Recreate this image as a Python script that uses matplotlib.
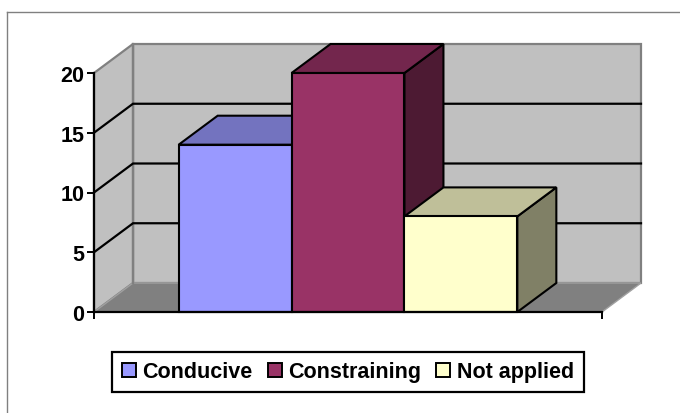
import matplotlib
matplotlib.use("Agg")
import matplotlib.pyplot as plt
from matplotlib.patches import Polygon, Patch
from matplotlib.lines import Line2D
from matplotlib.colors import to_rgb

plt.rcParams["font.family"] = ["Liberation Sans", "DejaVu Sans"]

# --- data ---
categories = ["Conducive", "Constraining", "Not applied"]
values = [14, 20, 8]
front_colors = ["#9999FF", "#993366", "#FFFFCC"]
y_ticks = [0, 5, 10, 15, 20]

# --- layout (pixels) ---
W, H = 680, 414
left_px, right_px, base_px, top_px = 94, 602, 313, 74
depth_px = (39, 29)          # oblique depth offset of the 3-D box
gap = 0.75                   # half of the category gap, in bar widths
font_size = 15.5

fig = plt.figure(figsize=(W / 100, H / 100), dpi=100)
fig.patch.set_facecolor("white")
ax = fig.add_axes([left_px / W, 1 - base_px / H,
                   (right_px - left_px) / W, (base_px - top_px) / H])
ax.patch.set_visible(False)

n = len(values)
xmax = n + 2 * gap
ymax = y_ticks[-1]
ax.set_xlim(0, xmax)
ax.set_ylim(0, ymax)
dx = depth_px[0] * xmax / (right_px - left_px)
dy = depth_px[1] * ymax / (base_px - top_px)

wall_c, floor_c, edge_c = "#C0C0C0", "#808080", "#808080"


def poly(pts, fc, ec, lw, z):
    ax.add_patch(Polygon(pts, closed=True, facecolor=fc, edgecolor=ec,
                         linewidth=lw, clip_on=False, zorder=z,
                         joinstyle="miter"))


# walls and floor
poly([(dx, dy), (xmax + dx, dy), (xmax + dx, ymax + dy), (dx, ymax + dy)],
     wall_c, edge_c, 1.6, 0.1)
poly([(0, 0), (dx, dy), (dx, ymax + dy), (0, ymax)], wall_c, edge_c, 1.6, 0.2)
poly([(0, 0), (xmax, 0), (xmax + dx, dy), (dx, dy)], floor_c, "#A0A0A0", 1.0, 0.3)
ax.plot([dx, dx], [dy, ymax + dy], color=edge_c, lw=1.6, clip_on=False, zorder=0.4)

# gridlines on side and back walls
for v in y_ticks[1:-1]:
    ax.plot([0, dx, xmax + dx], [v, v + dy, v + dy], color="black", lw=1.6,
            clip_on=False, zorder=0.5, solid_joinstyle="miter")

# 3-D bars
for i, (v, c) in enumerate(zip(values, front_colors)):
    x0, x1 = gap + i, gap + i + 1
    rgb = to_rgb(c)
    top_c = tuple(0.75 * k for k in rgb)
    side_c = tuple(0.5 * k for k in rgb)
    z = 2 + i
    poly([(x1, 0), (x1 + dx, dy), (x1 + dx, v + dy), (x1, v)], side_c, "black", 1.5, z)
    poly([(x0, v), (x1, v), (x1 + dx, v + dy), (x0 + dx, v + dy)], top_c, "black", 1.5, z)
    poly([(x0, 0), (x1, 0), (x1, v), (x0, v)], c, "black", 1.5, z)

# axes
for s in ("top", "right"):
    ax.spines[s].set_visible(False)
for s in ("left", "bottom"):
    ax.spines[s].set_color("black")
    ax.spines[s].set_linewidth(1.6)
    ax.spines[s].set_zorder(10)
ax.set_yticks(y_ticks)
ax.set_yticklabels([str(t) for t in y_ticks], fontsize=font_size, fontweight="bold")
ax.set_xticks([0, xmax])
ax.set_xticklabels(["", ""])
ax.tick_params(axis="both", direction="out", length=5, width=1.4,
               color="black", pad=2)

# chart area border
fig.add_artist(Line2D([7 / W, 1], [1 - 13 / H, 1 - 13 / H],
                      transform=fig.transFigure, color="#808080", lw=1))
fig.add_artist(Line2D([7 / W, 7 / W], [0, 1 - 13 / H],
                      transform=fig.transFigure, color="#808080", lw=1))

# legend
handles = [Patch(facecolor=c, edgecolor="black", linewidth=1.4, label=cat)
           for cat, c in zip(categories, front_colors)]
leg = fig.legend(handles=handles, loc="center",
                 bbox_to_anchor=(348 / W, 1 - 373 / H), ncol=3,
                 frameon=True, fancybox=False, framealpha=1,
                 edgecolor="black",
                 prop={"family": "Liberation Sans", "weight": "bold", "size": font_size},
                 handlelength=0.65, handleheight=0.65, handletextpad=0.3,
                 columnspacing=0.7, borderpad=0.45, borderaxespad=0)
leg.get_frame().set_linewidth(1.6)

fig.savefig("out.png", dpi=100, facecolor="white")
